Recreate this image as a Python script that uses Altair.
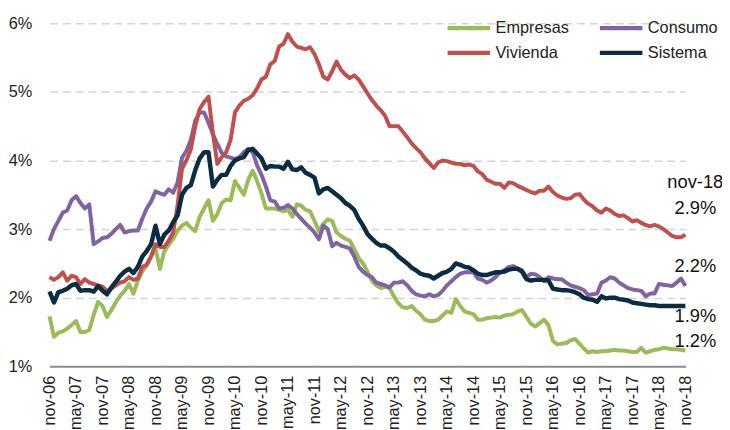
import json
import pandas as pd
import altair as alt

# x-axis tick labels (every 6 months, nov-06 .. nov-18)
x_labels = ["nov-06", "may-07", "nov-07", "may-08", "nov-08", "may-09", "nov-09",
            "may-10", "nov-10", "may-11", "nov-11", "may-12", "nov-12", "may-13",
            "nov-13", "may-14", "nov-14", "may-15", "nov-15", "may-16", "nov-16",
            "may-17", "nov-17", "may-18", "nov-18"]

# legend order (column-major in the legend grid): Empresas, Vivienda | Consumo, Sistema
series_names = ["Empresas", "Vivienda", "Consumo", "Sistema"]
series_colors = ["#9BBB59", "#C0504D", "#8064A2", "#0C2C42"]
draw_order = ["Empresas", "Consumo", "Vivienda", "Sistema"]

empresas = [
    1.73, 1.43, 1.49, 1.51, 1.55, 1.60, 1.66, 1.50, 1.50, 1.53, 1.75, 1.94, 1.88,
    1.72, 1.82, 1.93, 2.03, 2.10, 2.20, 2.06, 2.25, 2.38, 2.47, 2.60, 2.72,
    2.42, 2.68, 2.77, 2.86, 2.98, 3.05, 3.09, 3.02, 2.97, 3.18, 3.30, 3.42, 3.12,
    3.22, 3.38, 3.43, 3.42, 3.70, 3.60, 3.50, 3.72, 3.85, 3.70, 3.52, 3.30, 3.30,
    3.30, 3.28, 3.26, 3.28, 3.18, 3.36, 3.34, 3.28, 3.26, 3.12, 2.97, 3.08, 3.14,
    3.12, 2.95, 2.90, 2.86, 2.83, 2.71, 2.58, 2.50, 2.38, 2.25, 2.18, 2.14,
    2.16, 2.14, 2.02, 1.92, 1.86, 1.85, 1.88, 1.81, 1.76, 1.68, 1.66, 1.66, 1.68,
    1.74, 1.80, 1.78, 1.98, 1.88, 1.80, 1.78, 1.76, 1.68, 1.68, 1.70, 1.71, 1.72,
    1.71, 1.74, 1.75, 1.76, 1.80, 1.82, 1.72, 1.62, 1.58, 1.63, 1.68, 1.60, 1.37,
    1.32, 1.33, 1.34, 1.38, 1.40, 1.33, 1.26, 1.20, 1.22, 1.21, 1.22, 1.22, 1.23,
    1.24, 1.23, 1.23, 1.22, 1.21, 1.21, 1.27, 1.20, 1.22, 1.24, 1.25, 1.27, 1.26,
    1.25, 1.25, 1.24, 1.23,
]
consumo = [
    2.83, 3.00, 3.12, 3.24, 3.27, 3.42, 3.48, 3.38, 3.30, 3.36, 2.78, 2.82, 2.87,
    2.88, 2.93, 3.00, 3.06, 2.95, 2.97, 2.98, 2.98, 3.15, 3.30, 3.40, 3.55,
    3.52, 3.50, 3.58, 3.53, 3.68, 4.04, 4.14, 4.30, 4.58, 4.70, 4.70, 4.55, 4.38,
    4.24, 4.11, 4.06, 4.04, 4.02, 4.05, 4.12, 4.17, 4.12, 3.93, 3.79, 3.62, 3.42,
    3.40, 3.30, 3.31, 3.35, 3.30, 3.22, 3.15, 3.08, 3.02, 2.95, 2.85, 3.05, 3.00,
    2.75, 2.80, 2.76, 2.74, 2.72, 2.60, 2.45, 2.38, 2.33, 2.30, 2.22, 2.20,
    2.18, 2.15, 2.22, 2.22, 2.24, 2.18, 2.10, 2.05, 2.03, 2.02, 2.05, 2.02, 2.04,
    2.10, 2.18, 2.24, 2.30, 2.35, 2.37, 2.37, 2.37, 2.28, 2.26, 2.22, 2.25, 2.30,
    2.37, 2.40, 2.45, 2.46, 2.43, 2.40, 2.30, 2.35, 2.34, 2.30, 2.24, 2.30, 2.28,
    2.27, 2.27, 2.22, 2.18, 2.16, 2.14, 2.11, 2.04, 2.05, 2.06, 2.22, 2.25, 2.30,
    2.28, 2.22, 2.18, 2.14, 2.12, 2.11, 2.10, 2.02, 2.06, 2.06, 2.20, 2.19, 2.18,
    2.17, 2.22, 2.28, 2.17,
]
vivienda = [
    2.30, 2.26, 2.30, 2.37, 2.25, 2.32, 2.30, 2.20, 2.27, 2.22, 2.20, 2.18, 2.16,
    2.10, 2.13, 2.18, 2.22, 2.24, 2.30, 2.26, 2.28, 2.45, 2.48, 2.60, 2.78,
    2.74, 2.74, 2.83, 2.95, 3.35, 3.88, 4.00, 4.16, 4.50, 4.75, 4.85, 4.93, 4.40,
    3.95, 4.05, 4.12, 4.30, 4.70, 4.80, 4.87, 4.90, 4.95, 5.05, 5.18, 5.22, 5.40,
    5.45, 5.66, 5.70, 5.84, 5.73, 5.66, 5.64, 5.62, 5.65, 5.55, 5.40, 5.22, 5.18,
    5.30, 5.44, 5.32, 5.25, 5.20, 5.24, 5.18, 5.08, 4.98, 4.88, 4.80, 4.73,
    4.65, 4.50, 4.50, 4.50, 4.42, 4.34, 4.25, 4.18, 4.12, 4.03, 3.96, 3.89, 3.97,
    4.00, 3.99, 3.97, 3.95, 3.95, 3.93, 3.94, 3.92, 3.84, 3.80, 3.72, 3.69, 3.66,
    3.66, 3.60, 3.68, 3.67, 3.63, 3.60, 3.57, 3.54, 3.52, 3.56, 3.56, 3.62, 3.54,
    3.49, 3.46, 3.44, 3.45, 3.50, 3.51, 3.43, 3.37, 3.33, 3.27, 3.24, 3.30, 3.27,
    3.22, 3.19, 3.20, 3.16, 3.11, 3.13, 3.09, 3.06, 3.04, 3.06, 3.04, 3.00, 2.95,
    2.90, 2.88, 2.88, 2.92,
]
sistema = [
    2.09, 1.93, 2.08, 2.10, 2.13, 2.18, 2.20, 2.10, 2.11, 2.11, 2.09, 2.17, 2.10,
    2.05, 2.15, 2.23, 2.32, 2.38, 2.42, 2.36, 2.45, 2.60, 2.68, 2.78, 3.05,
    2.78, 2.92, 2.98, 3.10, 3.20, 3.50, 3.60, 3.64, 3.86, 4.03, 4.12, 4.12, 3.62,
    3.72, 3.79, 3.79, 3.92, 4.00, 4.03, 4.05, 4.15, 4.17, 4.10, 4.03, 3.88, 3.92,
    3.91, 3.91, 3.88, 3.98, 3.87, 3.86, 3.90, 3.82, 3.79, 3.75, 3.52, 3.58, 3.60,
    3.55, 3.50, 3.45, 3.38, 3.34, 3.28, 3.15, 3.05, 2.93, 2.86, 2.80, 2.76,
    2.76, 2.72, 2.67, 2.60, 2.55, 2.50, 2.44, 2.40, 2.35, 2.33, 2.32, 2.28, 2.32,
    2.36, 2.38, 2.42, 2.50, 2.48, 2.45, 2.44, 2.40, 2.35, 2.33, 2.33, 2.35, 2.37,
    2.37, 2.38, 2.41, 2.42, 2.42, 2.38, 2.27, 2.25, 2.26, 2.26, 2.26, 2.25, 2.13,
    2.12, 2.11, 2.11, 2.10, 2.08, 2.05, 2.00, 1.98, 1.97, 1.94, 2.02, 1.99, 2.00,
    2.00, 1.98, 1.97, 1.96, 1.93, 1.92, 1.91, 1.90, 1.89, 1.89, 1.88, 1.88, 1.88,
    1.88, 1.88, 1.88, 1.88,
]

# end-of-series annotations: (series, text)
end_labels = [("Vivienda", "nov-18"), ("Vivienda", "2.9%"), ("Consumo", "2.2%"),
              ("Sistema", "1.9%"), ("Empresas", "1.2%")]
end_label_dy = [-53, -27, -20, 10, -10]

values = {"Empresas": empresas, "Consumo": consumo, "Vivienda": vivienda, "Sistema": sistema}
rows = []
for name in series_names:
    for i, v in enumerate(values[name]):
        rows.append({"m": i, "v": v, "serie": name})
df = pd.DataFrame(rows)

FONT = "Liberation Sans, Arial, sans-serif"
label_expr = json.dumps(x_labels) + "[round(datum.value / 6)]"

x_axis = alt.Axis(values=list(range(0, 145, 6)), labelExpr=label_expr,
                  labelAngle=270, labelAlign="right", labelBaseline="middle",
                  labelPadding=9, labelOverlap=False, labelFlush=False,
                  ticks=False, grid=False,
                  domainColor="#8c8c8c", domainWidth=2,
                  labelFontSize=16.5, labelColor="#222222", title=None)
y_axis = alt.Axis(values=[1, 2, 3, 4, 5, 6], labelExpr="datum.value + '%'",
                  grid=True, gridDash=[8, 5], gridColor="#d4d4d4", gridWidth=1.5,
                  domain=False, ticks=False, labelPadding=18,
                  labelOverlap=False, labelFlush=False,
                  labelFontSize=16.5, labelColor="#222222", title=None)
x_scale = alt.Scale(domain=[0, 144], nice=False, zero=False)
y_scale = alt.Scale(domain=[1, 6], nice=False, zero=False)

x_enc = alt.X("m:Q", scale=x_scale, axis=x_axis)
y_enc = alt.Y("v:Q", scale=y_scale, axis=y_axis)

legend = alt.Legend(title=None, orient="none", legendX=400, legendY=-7, columns=2,
                    symbolType="stroke", symbolStrokeWidth=4.5, symbolSize=1850,
                    labelFontSize=16.5, labelColor="#222222", columnPadding=28,
                    rowPadding=1, clipHeight=24, labelOffset=3, padding=0,
                    labelLimit=300)
color_enc = alt.Color("serie:N", scale=alt.Scale(domain=series_names, range=series_colors),
                      legend=legend)

layers = []
for name in draw_order:
    layers.append(
        alt.Chart(df).transform_filter(alt.datum.serie == name)
        .mark_line(strokeWidth=4.5 if name == "Sistema" else 4, strokeJoin="round")
        .encode(x=x_enc, y=y_enc, color=color_enc)
    )

for (name, txt), dy in zip(end_labels, end_label_dy):
    ldf = pd.DataFrame({"m": [len(values[name]) - 1], "v": [values[name][-1]], "t": [txt]})
    layers.append(
        alt.Chart(ldf).mark_text(fontSize=18.5, color="#111111", dy=dy, dx=10,
                                 align="center", baseline="middle")
        .encode(x=x_enc, y=y_enc, text="t:N")
    )

chart = (
    alt.layer(*layers)
    .properties(width=643, height=347,
                padding={"left": 42, "top": 13, "right": 37, "bottom": 62},
                autosize=alt.AutoSizeParams(type="none"))
    .configure(font=FONT)
    .configure_view(stroke=None)
)

chart.save("out.html", embed_options={"renderer": "svg", "actions": False})
